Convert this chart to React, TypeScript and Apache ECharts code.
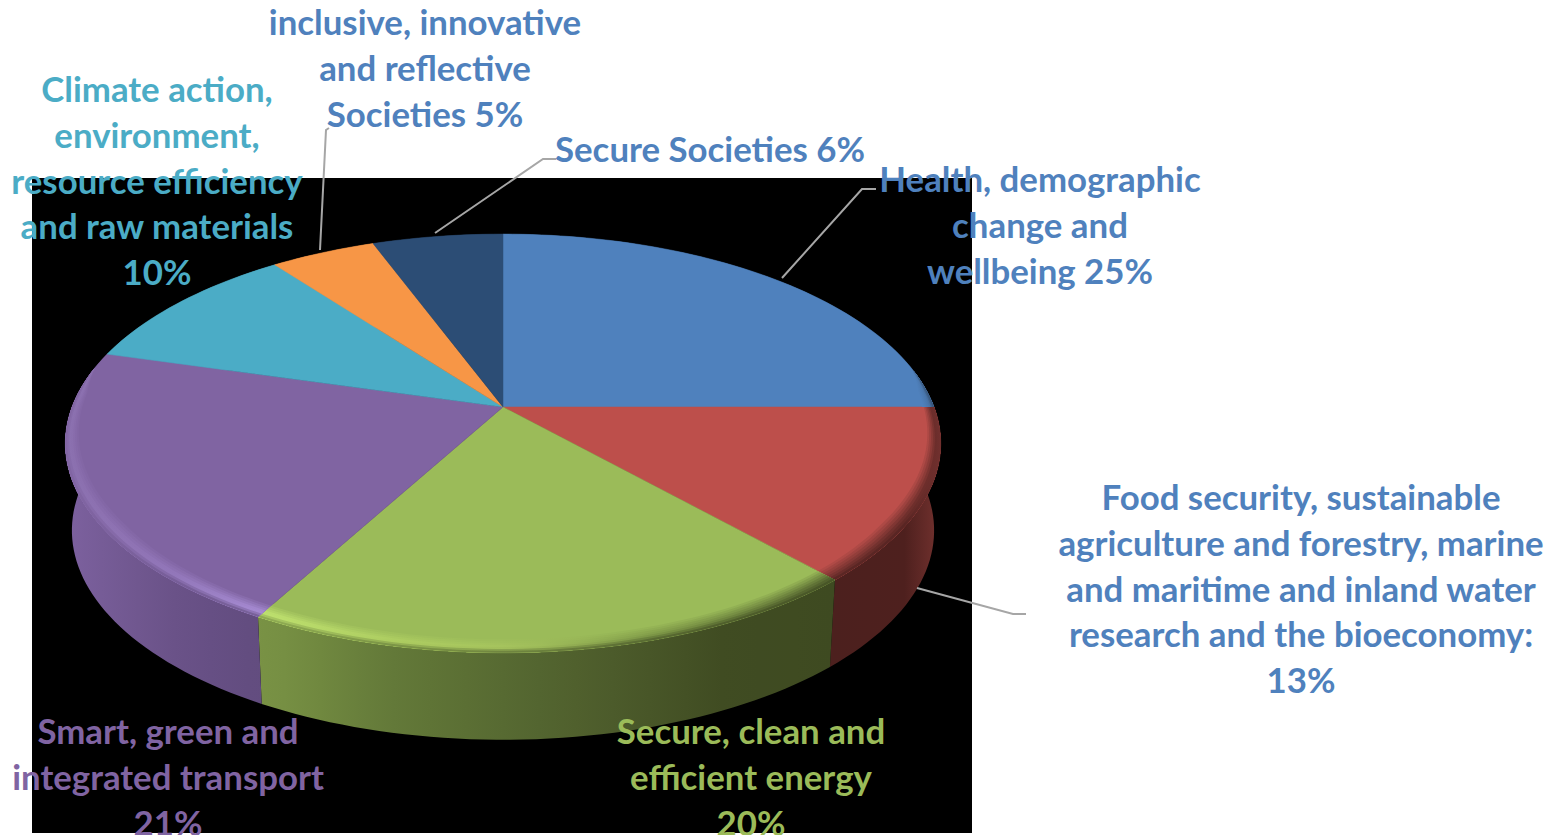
import React, { useEffect, useRef } from "react";
import * as echarts from "echarts";

const CATEGORIES = [
  "Health, demographic change and wellbeing",
  "Food security, sustainable agriculture and forestry, marine and maritime and inland water research and the bioeconomy",
  "Secure, clean and efficient energy",
  "Smart, green and integrated transport",
  "Climate action, environment, resource efficiency and raw materials",
  "inclusive, innovative and reflective Societies",
  "Secure Societies",
];
const VALUES = [25, 13.3, 19.7, 21.4, 10.3, 4.6, 5.7];
const FACE_COLORS = ["#4f81bd", "#bd4f4b", "#9bbb59", "#8064a2", "#4bacc6", "#f79646", "#2c4d75"];

type Stop = [number, string];
const WALL_STOPS: Stop[][] = [
  [[900, "#3a5a80"], [941, "#2c4460"]],
  [[830, "#4c201e"], [905, "#4e201e"], [941, "#74322f"]],
  [[262, "#7a9345"], [400, "#627838"], [600, "#4d5d2c"], [720, "#404c22"], [835, "#3e4a21"]],
  [[65, "#7d619f"], [170, "#6a5288"], [262, "#624c7e"]],
  [[65, "#3a8296"]],
  [[65, "#b9702f"]],
  [[65, "#203a58"]],
];
const RIM_STOPS: Stop[][] = [
  [[900, "#4f81bd"], [941, "#446e9f"]],
  [[835, "#7d3532"], [941, "#6b2d2b"]],
  [[262, "#c3e672"], [400, "#b0d062"], [520, "#a6c35d"], [650, "#7f9a48"], [835, "#5e7035"]],
  [[65, "#8c71b0"], [170, "#9478bc"], [262, "#ab90d8"]],
  [[65, "#4bacc6"]],
  [[65, "#f79646"]],
  [[65, "#2c4d75"]],
];

const LABELS = [
  { lines: ["Health, demographic", "change and", "wellbeing 25%"], color: "#4f81bd", x: 1040, y: 179 },
  { lines: ["Food security, sustainable", "agriculture and forestry, marine", "and maritime and inland water", "research and the bioeconomy:", "13%"], color: "#4f81bd", x: 1301, y: 497 },
  { lines: ["Secure, clean and", "efficient energy", "20%"], color: "#9bbb59", x: 751, y: 731 },
  { lines: ["Smart, green and", "integrated transport", "21%"], color: "#8064a2", x: 168, y: 731 },
  { lines: ["Climate action,", "environment,", "resource efficiency", "and raw materials", "10%"], color: "#4bacc6", x: 157, y: 89 },
  { lines: ["inclusive, innovative", "and reflective", "Societies 5%"], color: "#4f81bd", x: 425, y: 22 },
  { lines: ["Secure Societies 6%"], color: "#4f81bd", x: 710, y: 149 },
];
const LEADERS = [
  [[782, 278], [862, 189], [876, 189]],
  [[917, 588], [1013, 614], [1026, 614]],
  [[320, 250], [326, 130], [329, 128]],
  [[435, 233], [543, 159], [556, 159]],
];

// Perspective disc geometry
const CX = 503, CY = 407, A = 431, B = 203, P = -0.174, DEPTH = 87, BOTTOM_SCALE = 0.985;
const X_MIN = 65, X_MAX = 941;
const FONT = "Lato";
const FONT_SIZE = 34.8;
const LINE_H = 45.6;
const STRIPS = 9;
const BEVEL = 0.052;

const TOTAL = VALUES.reduce((s, v) => s + v, 0);
function sliceAngles(i: number): [number, number] {
  let before = 0;
  for (let k = 0; k < i; k++) before += VALUES[k];
  return [(before / TOTAL) * Math.PI * 2, ((before + VALUES[i]) / TOTAL) * Math.PI * 2];
}
function project(theta: number, r: number): [number, number] {
  const u = r * Math.sin(theta), v = -r * Math.cos(theta), w = 1 + P * v;
  return [CX + (A * u) / w, CY + (B * v) / w];
}
function projectBottom(theta: number): [number, number] {
  const u = Math.sin(theta), v = -Math.cos(theta), w = 1 + P * v;
  return [CX + (A * BOTTOM_SCALE * u) / w, CY + (B * v) / w + DEPTH];
}
function samples(t0: number, t1: number): number[] {
  const n = Math.max(2, Math.ceil((t1 - t0) / (Math.PI / 120)));
  const out: number[] = [];
  for (let i = 0; i <= n; i++) out.push(t0 + ((t1 - t0) * i) / n);
  return out;
}
function hex(c: string): number[] {
  return [1, 3, 5].map((k) => parseInt(c.slice(k, k + 2), 16));
}
function mix(a: string, b: string, t: number): string {
  const x = hex(a), y = hex(b);
  const m = x.map((q, i) => Math.round(q + (y[i] - q) * t).toString(16).padStart(2, "0"));
  return "#" + m.join("");
}
function colorAt(stops: Stop[], x: number): string {
  if (x <= stops[0][0]) return stops[0][1];
  for (let i = 1; i < stops.length; i++) {
    if (x <= stops[i][0]) {
      return mix(stops[i - 1][1], stops[i][1], (x - stops[i - 1][0]) / (stops[i][0] - stops[i - 1][0]));
    }
  }
  return stops[stops.length - 1][1];
}
function hGradient(fn: (x: number) => string) {
  const stops = [];
  const n = 24;
  for (let i = 0; i <= n; i++) {
    stops.push({ offset: i / n, color: fn(X_MIN + ((X_MAX - X_MIN) * i) / n) });
  }
  return new echarts.graphic.LinearGradient(X_MIN, 0, X_MAX, 0, stops, true);
}
function taper(theta: number): number {
  const v = -Math.cos(theta);
  const t = Math.min(1, Math.max(0, (v + 0.2) / 0.75));
  return 0.35 * Math.min(1, t * 6) + 0.65 * t;
}

function renderWall(params: any) {
  const i = params.dataIndex;
  const [t0, t1] = sliceAngles(i);
  const ts = samples(t0, t1);
  const pts = ts.map((t) => project(t, 1)).concat(ts.slice().reverse().map((t) => projectBottom(t)));
  return { type: "polygon", shape: { points: pts }, style: { fill: hGradient((x) => colorAt(WALL_STOPS[i], x)) } };
}
function renderFace(params: any) {
  const i = params.dataIndex;
  const [t0, t1] = sliceAngles(i);
  const pts = [project(0, 0)].concat(samples(t0, t1).map((t) => project(t, 1)));
  return {
    type: "polygon",
    shape: { points: pts },
    style: { fill: FACE_COLORS[i], stroke: FACE_COLORS[i], lineWidth: 0.5 },
  };
}
function renderBevel(params: any) {
  const i = params.dataIndex;
  const [t0, t1] = sliceAngles(i);
  const ts = samples(t0, t1).filter((t) => taper(t) > 0);
  if (ts.length < 2) return { type: "group", children: [] };
  const children = [];
  for (let s = 0; s < STRIPS; s++) {
    const f = s / (STRIPS - 1);
    const inner = ts.map((t) => project(t, 1 - BEVEL * taper(t) * (1 - f)));
    const outer = ts.slice().reverse().map((t) => project(t, 1));
    const fill = hGradient((x) => {
      const rim = colorAt(RIM_STOPS[i], x);
      const wall = colorAt(WALL_STOPS[i], x);
      return f < 0.6 ? mix(FACE_COLORS[i], rim, f / 0.6) : mix(rim, wall, (f - 0.6) / 0.4);
    });
    children.push({ type: "polygon", shape: { points: inner.concat(outer) }, style: { fill } });
  }
  return { type: "group", children };
}

function buildOption() {
  const data = VALUES.map((v, i) => ({ name: CATEGORIES[i], value: [v] }));
  const base = { type: "custom", coordinateSystem: "none", silent: true, data, clip: false };
  const texts = LABELS.map((l) => ({
    type: "text",
    z: 100,
    x: l.x,
    y: l.y - LINE_H / 2,
    silent: true,
    style: {
      text: l.lines.join("\n"),
      fill: l.color,
      font: `bold ${FONT_SIZE}px ${FONT}`,
      fontFamily: FONT,
      fontSize: FONT_SIZE,
      fontWeight: "bold",
      lineHeight: LINE_H,
      align: "center",
      verticalAlign: "top",
    },
  }));
  const lines = LEADERS.map((pts) => ({
    type: "polyline",
    z: 50,
    silent: true,
    shape: { points: pts },
    style: { stroke: "#a6a6a6", lineWidth: 2, fill: "none" },
  }));
  return {
    animation: false,
    backgroundColor: "#ffffff",
    graphic: {
      elements: [
        { type: "rect", z: -100, silent: true, shape: { x: 32, y: 178, width: 940, height: 655 }, style: { fill: "#000000" } },
        ...lines,
        ...texts,
      ],
    },
    series: [
      { ...base, z: 1, renderItem: renderWall },
      { ...base, z: 2, renderItem: renderFace },
      { ...base, z: 3, renderItem: renderBevel },
    ],
  };
}

export default function App() {
  const ref = useRef<HTMLDivElement>(null);
  useEffect(() => {
    const chart = echarts.init(ref.current, null, { renderer: "svg" });
    chart.setOption(buildOption() as any);
    return () => chart.dispose();
  }, []);
  return <div ref={ref} style={{ position: "fixed", left: 0, top: 0, width: 1555, height: 835 }} />;
}
